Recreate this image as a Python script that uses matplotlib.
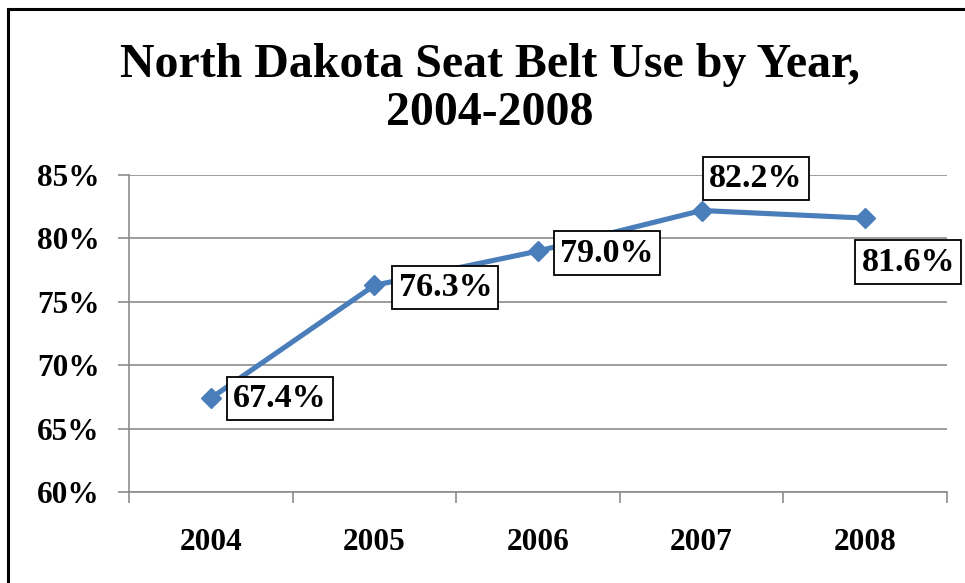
"""North Dakota seat belt use by year, 2004-2008 (line chart with boxed labels)."""

import matplotlib

matplotlib.use("Agg")
import matplotlib.pyplot as plt
from matplotlib.patches import Rectangle
from matplotlib.ticker import FixedLocator, FuncFormatter

# ── data ─────────────────────────────────────────────────────────────────────
YEARS = ["2004", "2005", "2006", "2007", "2008"]
USE_PCT = [67.4, 76.3, 79.0, 82.2, 81.6]
Y_TICKS = [60, 65, 70, 75, 80, 85]

# label offsets (pixels, from marker to box centre)
LABEL_OFFSETS = [(69, 0), (71, -2), (69, -2), (54, 32), (43, -44)]

LINE_COLOR = "#4A7EBB"
GRID_COLOR = "#8C8C8C"
SERIF = ["Liberation Serif", "DejaVu Serif"]

plt.rcParams["font.family"] = SERIF
plt.rcParams["font.weight"] = "bold"

fig = plt.figure(figsize=(9.65, 5.83), dpi=100)
W, H = 965, 583

# outer chart border (only left/top/right edges visible in the original)
fig.patches.append(
    Rectangle((8 / W, -0.05), 1.2, 1 - 9 / H + 0.05, transform=fig.transFigure,
              fill=False, edgecolor="black", linewidth=2.2, zorder=0)
)

ax = fig.add_axes([129 / W, 1 - 492 / H, (947 - 129) / W, (492 - 175) / H])
x = list(range(len(YEARS)))

ax.plot(x, USE_PCT, color=LINE_COLOR, linewidth=3.7, marker="D",
        markersize=10, markerfacecolor=LINE_COLOR, markeredgecolor=LINE_COLOR,
        zorder=3, clip_on=False)

for xi, val, (dx, dy) in zip(x, USE_PCT, LABEL_OFFSETS):
    ax.annotate(f"{val:.1f}%", (xi, val), xytext=(dx, dy),
                textcoords="offset pixels", ha="center", va="center",
                fontsize=24.5, fontweight="bold",
                bbox=dict(boxstyle="square,pad=0.18", facecolor="white",
                          edgecolor="black", linewidth=1.3),
                zorder=4)

ax.set_xlim(-0.5, len(YEARS) - 0.5)
ax.set_ylim(60, 85)

ax.yaxis.set_major_locator(FixedLocator(Y_TICKS))
ax.yaxis.set_major_formatter(FuncFormatter(lambda v, _: f"{v:.0f}%"))
ax.grid(axis="y", color=GRID_COLOR, linewidth=1.2)
ax.set_axisbelow(True)

ax.set_xticks(x)
ax.set_xticklabels(YEARS)
ax.set_xticks([i - 0.5 for i in range(len(YEARS) + 1)], minor=True)
ax.tick_params(axis="x", which="major", length=0, pad=26, labelsize=22.5)
ax.tick_params(axis="x", which="minor", length=8, width=1.2, color=GRID_COLOR,
               direction="out")
ax.tick_params(axis="y", length=8, width=1.2, color=GRID_COLOR, pad=13,
               labelsize=22.5)

for side in ("top", "right"):
    ax.spines[side].set_visible(False)
for side in ("left", "bottom"):
    ax.spines[side].set_color(GRID_COLOR)
    ax.spines[side].set_linewidth(1.2)

fig.text(0.508, 1 - 89 / H, "North Dakota Seat Belt Use by Year,\n2004-2008",
         ha="center", va="center", fontsize=34.5, fontweight="bold",
         linespacing=1.12)

fig.savefig("out.png", dpi=100)
